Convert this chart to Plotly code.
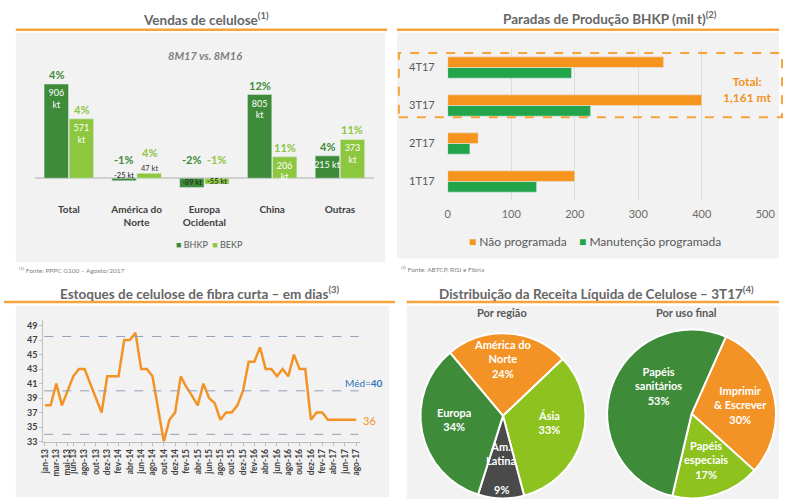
import plotly.graph_objects as go

W, H = 789, 504
def px(x): return x / W
def py(y): return 1 - y / H

FONT = "Lato"
ORANGE = "#f39325"
DKGREEN = "#3e8b39"
LTGREEN = "#8dc63f"
MGREEN = "#22a44b"
GREY_TXT = "#595959"

# ---------------- Panel 1: Vendas de celulose ----------------
sales_categories = ["Total", "América do<br>Norte", "Europa<br>Ocidental", "China", "Outras"]
bhkp_kt = [906, -25, -89, 805, 215]
bekp_kt = [571, 47, -55, 206, 373]
bhkp_pct = ["4%", "-1%", "-2%", "12%", "4%"]
bekp_pct = ["4%", "4%", "-1%", "11%", "11%"]
bhkp_inside = ["906<br>kt", "-25 kt", "-89 kt", "805<br>kt", "215 kt"]
bekp_inside = ["571<br>kt", "47 kt", "-55 kt", "206<br>kt", "373<br>kt"]

# ---------------- Panel 2: Paradas de Produção ----------------
quarters = ["1T17", "2T17", "3T17", "4T17"]
nao_programada = [200, 48, 400, 340]
manutencao_programada = [140, 35, 225, 195]
total_label = "Total:<br>1,161 mt"

# ---------------- Panel 3: Estoques ----------------
month_abbr = ["jan", "fev", "mar", "abr", "mai", "jun", "jul", "ago", "set", "out", "nov", "dez"]
months = [f"{m}-{y}" for y in ["13", "14", "15", "16", "17"] for m in month_abbr][:56]
estoque_dias = [38, 38, 41, 38, 40, 42, 43, 43, 41, 39, 37, 42, 42, 42, 47, 47, 48, 43, 43, 42,
                37.5, 33, 36, 37, 42, 40.5, 39.3, 38, 41, 39, 38.3, 36, 37, 37, 38, 40, 44, 44, 46, 43,
                43, 42, 43, 42, 45, 43, 43, 36, 37, 37, 36, 36, 36, 36, 36, 36]
tick_months = ["jan-13", "mar-13", "mai-13", "jun-13", "ago-13", "out-13", "dez-13", "fev-14", "abr-14",
               "jun-14", "ago-14", "out-14", "dez-14", "fev-15", "abr-15", "jun-15", "ago-15", "out-15",
               "dez-15", "fev-16", "abr-16", "jun-16", "ago-16", "out-16", "dez-16", "fev-17", "abr-17",
               "jun-17", "ago-17"]
ref_levels = [47.5, 40, 34]
media_label = "Méd=<b>40</b>"
last_label = "36"

# ---------------- Panel 4: Distribuição ----------------
regiao_labels = ["América do<br>Norte", "Ásia", "Am.<br>Latina", "Europa"]
regiao_values = [24, 33, 9, 34]
regiao_colors = [ORANGE, "#8dc21f", "#4a4a4a", DKGREEN]
uso_labels = ["Imprimir<br>& Escrever", "Papéis<br>especiais", "Papéis<br>sanitários"]
uso_values = [30, 17, 53]
uso_colors = [ORANGE, "#8dc21f", DKGREEN]

fig = go.Figure()

# Panel 1 bars (inside labels only where the bar is tall enough)
pos1 = ["inside" if abs(v) >= 100 else "none" for v in bhkp_kt]
pos2 = ["inside" if abs(v) >= 100 else "none" for v in bekp_kt]
fig.add_trace(go.Bar(x=sales_categories, y=bhkp_kt, name="BHKP", marker_color=DKGREEN,
                     width=0.36, offset=-0.365, text=bhkp_inside, textposition=pos1,
                     insidetextanchor="end", constraintext="none", textangle=0,
                     textfont=dict(color="white", size=9, family=FONT),
                     xaxis="x", yaxis="y", showlegend=False))
fig.add_trace(go.Bar(x=sales_categories, y=bekp_kt, name="BEKP", marker_color=LTGREEN,
                     width=0.36, offset=0.005, text=bekp_inside, textposition=pos2,
                     insidetextanchor="end", constraintext="none", textangle=0,
                     textfont=dict(color="white", size=9, family=FONT),
                     xaxis="x", yaxis="y", showlegend=False))

# Panel 2 bars
fig.add_trace(go.Bar(y=quarters, x=manutencao_programada, orientation="h", name="Manutenção programada",
                     marker_color=MGREEN, width=0.28, offset=-0.28, xaxis="x2", yaxis="y2",
                     showlegend=False))
fig.add_trace(go.Bar(y=quarters, x=nao_programada, orientation="h", name="Não programada",
                     marker_color="#f7941d", width=0.28, offset=0.0, xaxis="x2", yaxis="y2",
                     showlegend=False))

# Panel 3 line
fig.add_trace(go.Scatter(x=months, y=estoque_dias, mode="lines", line=dict(color=ORANGE, width=2.5),
                         xaxis="x3", yaxis="y3", showlegend=False))

# Panel 4 pies
fig.add_trace(go.Pie(labels=regiao_labels, values=regiao_values, sort=False, direction="clockwise",
                     rotation=-40, marker=dict(colors=regiao_colors, line=dict(color="white", width=2)),
                     textinfo="none", showlegend=False,
                     domain=dict(x=[px(424), px(592)], y=[0, py(336)])))
fig.add_trace(go.Pie(labels=uso_labels, values=uso_values, sort=False, direction="clockwise",
                     rotation=24, marker=dict(colors=uso_colors, line=dict(color="white", width=2)),
                     textinfo="none", showlegend=False,
                     domain=dict(x=[px(614), px(786)], y=[0, py(332)])))

shapes = []
# panel backgrounds
for (x0, y0, x1, y1) in [(12, 33, 388, 265), (400, 33, 789, 261), (12, 309, 392, 502), (410, 309, 789, 504)]:
    shapes.append(dict(type="rect", xref="paper", yref="paper", x0=px(x0), x1=px(x1), y0=py(y0), y1=py(y1),
                       fillcolor="#f2f2f2", line=dict(width=0), layer="below"))
# orange title underlines
for (x0, x1, y) in [(12, 390, 30), (400, 789, 30), (0, 398, 305), (410, 789, 305)]:
    shapes.append(dict(type="line", xref="paper", yref="paper", x0=px(x0), x1=px(x1), y0=py(y), y1=py(y),
                       line=dict(color="#f5a33a", width=2.5)))
# reference lines panel 3
for lv in ref_levels:
    shapes.append(dict(type="line", xref="paper", yref="y3", x0=px(41), x1=px(361), y0=lv, y1=lv,
                       line=dict(color="#8ea0b8", width=1, dash="dash")))
# dashed box around 3T17/4T17
shapes.append(dict(type="rect", xref="paper", yref="y2", x0=px(402), x1=px(792), y0=1.69, y1=3.38,
                   line=dict(color="#f5a33a", width=2, dash="dash"), fillcolor="rgba(0,0,0,0)"))

ann = []
def text(x, y, t, size=10, color=GREY_TXT, bold=False, **kw):
    ann.append(dict(xref="paper", yref="paper", x=px(x), y=py(y), text=(f"<b>{t}</b>" if bold else t),
                    showarrow=False, font=dict(family=FONT, size=size, color=color),
                    xanchor=kw.pop("xanchor", "center"), yanchor=kw.pop("yanchor", "middle"), **kw))

# titles
text(206, 19, "Vendas de celulose<sup>(1)</sup>", 13.5, "#666666", True)
text(617, 18, "Paradas de Produção BHKP (mil t)<sup>(2)</sup>", 13.5, "#666666", True)
text(199, 296, "Estoques de celulose de fibra curta – em dias<sup>(3)</sup>", 13.5, "#666666", True)
text(603, 296, "Distribuição da Receita Líquida de Celulose – 3T17<sup>(4)</sup>", 13.5, "#666666", True)
text(205, 56, "<i>8M17 vs. 8M16</i>", 11, "#7f7f7f", True)
text(13, 273, "<sup>(1)</sup> Fonte: PPPC G100 – Agosto/2017", 6.5, "#7f7f7f", xanchor="left")
text(402, 272, "<sup>(2)</sup> Fonte: ABTCP, RISI e Fibria", 6.5, "#7f7f7f", xanchor="left")
text(507, 316, "Por região", 11, "#595959", True)
text(695, 316, "Por uso final", 11, "#595959", True)

# legends
text(209, 247, f'<span style="color:{DKGREEN}">■</span> BHKP  <span style="color:{LTGREEN}">■</span> BEKP',
     9, "#595959")
text(602, 244, f'<span style="color:#f7941d">■</span> Não programada    '
               f'<span style="color:{MGREEN}">■</span> Manutenção programada', 12, "#595959")

# panel 1 value annotations
for i, cat in enumerate(sales_categories):
    for val, pct, kt, col, off in [(bhkp_kt[i], bhkp_pct[i], bhkp_inside[i], DKGREEN, -0.18),
                                   (bekp_kt[i], bekp_pct[i], bekp_inside[i], LTGREEN, 0.185)]:
        if abs(val) < 100:
            if val > 0:
                ann.append(dict(xref="x", yref="y", x=i + off, y=val, text=kt, showarrow=False,
                                font=dict(family=FONT, size=7.5, color="#333333"), yanchor="bottom", yshift=-2))
            else:
                ann.append(dict(xref="x", yref="y", x=i + off, y=val / 2, text=kt, showarrow=False,
                                font=dict(family=FONT, size=7.5, color="#222222"), yanchor="middle",
                                yshift=(4 if val > -40 else 0)))
            ann.append(dict(xref="x", yref="y", x=i + off, y=max(val, 0), text=f"<b>{pct}</b>", showarrow=False,
                            font=dict(family=FONT, size=11, color=col), yanchor="bottom",
                            yshift=(12 if val > 0 else 10)))
        else:
            ann.append(dict(xref="x", yref="y", x=i + off, y=val, text=f"<b>{pct}</b>", showarrow=False,
                            font=dict(family=FONT, size=11, color=col), yanchor="bottom", yshift=1))

# panel 2 total
text(757, 90, total_label, 12, "#f39325", True)

# panel 3 labels
text(366, 387, media_label, 10, "#2e75b6")
text(372, 425, last_label, 11, ORANGE)

# pie labels
for t, x, y in [(f"{regiao_labels[0]}<br>{regiao_values[0]}%", 508, 363),
                (f"{regiao_labels[3]}<br>{regiao_values[3]}%", 458, 424),
                (f"{regiao_labels[1]}<br>{regiao_values[1]}%", 555, 427),
                (regiao_labels[2], 506, 458),
                (f"{regiao_values[2]}%", 506, 494),
                (f"{uso_labels[2]}<br>{uso_values[2]}%", 666, 390),
                (f"{uso_labels[0]}<br>{uso_values[0]}%", 750, 409),
                (f"{uso_labels[1]}<br>{uso_values[1]}%", 715, 465)]:
    text(x, y, t, 11, "white", True)

fig.update_layout(
    width=W, height=H, margin=dict(l=0, r=0, t=0, b=0),
    paper_bgcolor="white", plot_bgcolor="rgba(0,0,0,0)",
    font=dict(family=FONT, color=GREY_TXT),
    barmode="overlay", showlegend=False,
    shapes=shapes, annotations=ann,
    xaxis=dict(domain=[px(31.5), px(376.5)], anchor="y", showgrid=False, zeroline=False, showline=False,
               ticks="", tickfont=dict(size=10, color="#404040", weight="bold"), ticklabelstandoff=8,
               range=[-0.5, 4.5]),
    yaxis=dict(domain=[py(195.75), py(64.5)], anchor="x", range=[-150, 1100], showgrid=False,
               showticklabels=False, zeroline=True, zerolinecolor="#d0d0d0", zerolinewidth=1.5),
    xaxis2=dict(domain=[px(451.7), px(775)], anchor="y2", range=[0, 500], dtick=100, showgrid=True,
                gridcolor="#dcdcdc", zeroline=False, showline=False,
                tickfont=dict(size=11, color="#6b6b6b"), ticklabelstandoff=6),
    yaxis2=dict(domain=[py(202.5), py(49)], anchor="x2", range=[-0.5, 3.5], showgrid=False, zeroline=False,
                tickfont=dict(size=11, color="#595959"), ticklabelstandoff=12),
    xaxis3=dict(domain=[px(40), px(362)], anchor="y3", range=[-0.3, 55.6], tickmode="array",
                tickvals=tick_months, ticktext=tick_months, tickangle=-90, ticks="outside", ticklen=3,
                tickcolor="#bfbfbf", showline=True, linecolor="#bfbfbf", showgrid=False, zeroline=False,
                tickfont=dict(size=8.5, color="#404040", weight="bold")),
    yaxis3=dict(domain=[py(446), py(323)], anchor="x3", range=[33, 49.8], tickvals=list(range(33, 50, 2)),
                ticks="outside", ticklen=3, tickcolor="#bfbfbf", showline=True, linecolor="#bfbfbf",
                showgrid=False, zeroline=False, tickfont=dict(size=9, color="#404040", weight="bold")),
)

fig.write_html("out.html", config={"displayModeBar": False},
               post_script="document.body.style.margin='0px';document.body.style.overflow='hidden';")
